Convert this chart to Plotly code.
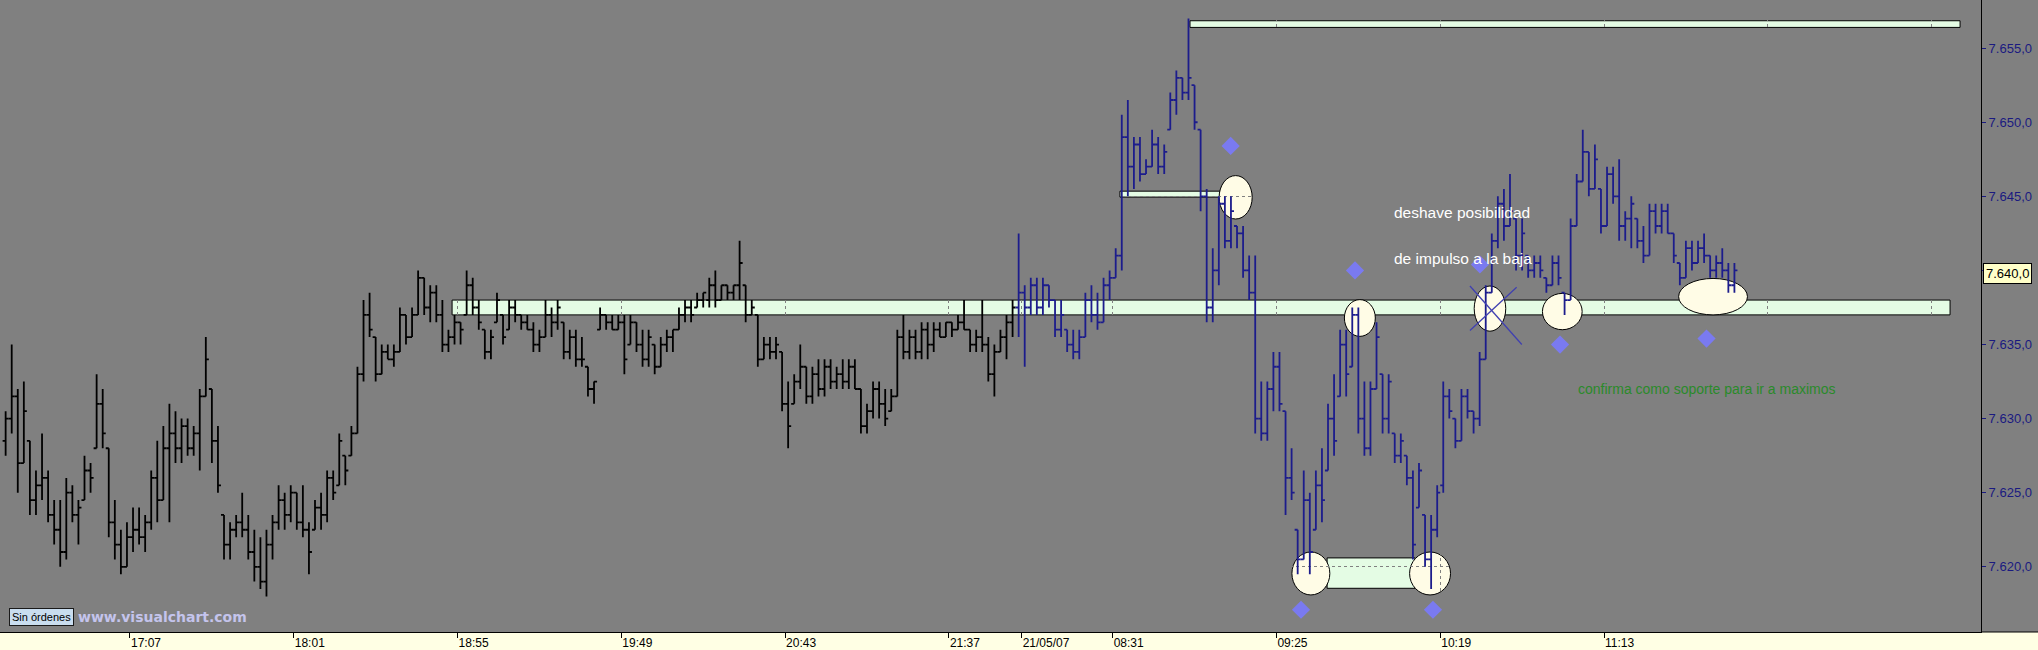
import plotly.graph_objects as go

# ---------------- data ----------------
# Friday session (black bars): 2-minute bars, first bar at 16:26
s1_open = [
    7628.5, 7630.0, 7631.5, 7627.0, 7628.5, 7624.5, 7625.5, 7626.0, 7623.5, 7622.5,
    7621.0, 7625.0, 7623.5, 7624.5, 7626.5, 7628.0, 7631.0, 7628.0, 7623.0, 7621.5,
    7620.0, 7622.0, 7622.5, 7622.0, 7623.0, 7626.0, 7624.5, 7628.0, 7629.0, 7628.0,
    7629.5, 7628.0, 7629.0, 7631.5, 7632.0, 7628.5, 7623.5, 7621.5, 7622.5, 7623.0,
    7622.5, 7621.0, 7620.0, 7619.0, 7621.5, 7623.0, 7624.5, 7623.5, 7625.0, 7623.0,
    7622.5, 7622.5, 7624.0, 7623.5, 7626.0, 7625.5, 7627.5, 7627.5, 7629.0, 7633.0,
    7637.0, 7635.5, 7633.0, 7634.5, 7634.0, 7634.5, 7637.0, 7635.5, 7637.0, 7639.5,
    7637.5, 7638.5, 7637.0, 7635.0, 7635.5, 7636.5, 7637.0, 7639.0, 7637.5, 7636.0,
    7634.5, 7636.5, 7637.0, 7636.0, 7637.5, 7637.0, 7636.5, 7636.0, 7635.0, 7635.5,
    7637.0, 7636.5, 7636.5, 7634.5, 7635.5, 7634.0, 7633.5, 7632.0, 7636.0, 7637.0,
    7636.5, 7636.0, 7636.5, 7635.0, 7636.5, 7635.0, 7634.0, 7635.0, 7633.5, 7635.0,
    7635.5, 7636.0, 7637.0, 7637.5, 7637.5, 7638.0, 7638.0, 7639.0, 7638.0, 7639.0,
    7638.5, 7639.0, 7639.0, 7637.0, 7637.0, 7634.0, 7635.0, 7634.5, 7634.5, 7631.0,
    7631.0, 7632.5, 7633.5, 7631.5, 7633.0, 7632.0, 7633.5, 7632.5, 7633.0, 7632.5,
    7633.5, 7632.0, 7629.5, 7630.5, 7632.0, 7631.0, 7630.5, 7631.5, 7635.5, 7634.5,
    7635.5, 7634.5, 7636.0, 7635.0, 7636.0, 7635.5, 7636.5, 7636.0, 7636.5, 7636.0,
    7635.0, 7635.5, 7635.0, 7633.0, 7634.5, 7635.5, 7636.5]
s1_high = [
    7630.5, 7635.0, 7632.0, 7632.5, 7628.5, 7626.5, 7629.0, 7626.5, 7624.5, 7624.5,
    7626.0, 7625.5, 7624.5, 7627.5, 7627.0, 7633.0, 7632.0, 7628.0, 7624.5, 7622.5,
    7623.0, 7624.0, 7624.0, 7623.5, 7626.5, 7628.5, 7629.5, 7631.0, 7630.5, 7630.0,
    7630.0, 7629.5, 7632.0, 7635.5, 7632.0, 7629.5, 7623.5, 7623.0, 7623.5, 7625.0,
    7623.5, 7622.5, 7622.0, 7622.5, 7623.5, 7625.5, 7625.0, 7625.5, 7625.0, 7625.5,
    7623.0, 7624.5, 7625.0, 7626.5, 7626.5, 7629.0, 7627.5, 7629.5, 7633.5, 7638.0,
    7638.5, 7635.5, 7635.0, 7635.0, 7635.0, 7637.5, 7637.0, 7637.5, 7640.0, 7639.5,
    7639.0, 7639.0, 7638.0, 7636.0, 7637.0, 7636.5, 7640.0, 7639.5, 7638.0, 7636.0,
    7636.0, 7638.5, 7637.0, 7638.0, 7638.0, 7637.0, 7637.0, 7636.5, 7636.0, 7638.0,
    7637.5, 7638.0, 7636.5, 7636.0, 7636.0, 7635.5, 7633.5, 7632.5, 7637.5, 7637.0,
    7637.0, 7637.0, 7637.0, 7637.0, 7636.5, 7636.0, 7636.0, 7635.0, 7635.5, 7636.0,
    7636.0, 7637.5, 7638.0, 7638.0, 7638.5, 7638.5, 7639.5, 7640.0, 7639.0, 7639.0,
    7639.0, 7642.0, 7639.0, 7638.0, 7637.0, 7635.5, 7635.5, 7635.5, 7634.5, 7632.5,
    7633.0, 7635.0, 7633.5, 7633.5, 7634.0, 7634.0, 7634.0, 7633.5, 7634.0, 7634.0,
    7634.0, 7632.0, 7631.0, 7632.5, 7632.5, 7632.0, 7632.0, 7636.0, 7637.0, 7636.0,
    7636.0, 7636.5, 7636.5, 7636.5, 7636.5, 7636.5, 7636.5, 7637.0, 7638.0, 7636.0,
    7636.0, 7638.0, 7635.5, 7635.0, 7636.0, 7637.0, 7638.0]
s1_low = [
    7627.5, 7629.0, 7625.0, 7627.0, 7623.5, 7623.5, 7624.5, 7623.0, 7621.5, 7620.0,
    7620.5, 7623.0, 7621.5, 7624.5, 7625.0, 7628.0, 7628.0, 7622.0, 7620.5, 7619.5,
    7620.0, 7621.0, 7621.5, 7621.0, 7622.5, 7623.0, 7624.5, 7623.0, 7627.0, 7627.0,
    7627.5, 7627.5, 7626.5, 7631.5, 7627.0, 7625.0, 7620.5, 7620.5, 7622.0, 7622.0,
    7620.5, 7619.0, 7618.5, 7618.0, 7620.5, 7622.5, 7622.5, 7623.0, 7622.5, 7622.0,
    7619.5, 7622.5, 7622.5, 7623.0, 7624.5, 7625.5, 7625.5, 7627.5, 7629.0, 7632.5,
    7635.5, 7632.5, 7633.0, 7634.0, 7633.5, 7634.5, 7635.0, 7635.5, 7637.0, 7637.0,
    7636.5, 7636.5, 7634.5, 7634.5, 7635.0, 7635.0, 7637.0, 7637.0, 7636.0, 7634.0,
    7634.0, 7636.5, 7635.0, 7636.0, 7636.5, 7636.0, 7636.0, 7634.5, 7634.5, 7635.5,
    7635.5, 7636.0, 7634.0, 7634.0, 7633.5, 7633.5, 7631.5, 7631.0, 7636.0, 7636.0,
    7636.0, 7636.0, 7633.0, 7635.0, 7634.5, 7633.5, 7633.5, 7633.0, 7633.5, 7634.5,
    7634.5, 7636.0, 7636.5, 7636.5, 7637.5, 7637.5, 7637.5, 7637.5, 7638.0, 7638.0,
    7638.0, 7638.0, 7636.5, 7637.0, 7633.5, 7634.0, 7634.0, 7634.0, 7630.5, 7628.0,
    7631.0, 7632.0, 7631.0, 7631.0, 7631.5, 7631.5, 7632.0, 7632.0, 7632.0, 7632.0,
    7632.0, 7629.0, 7629.0, 7630.0, 7630.0, 7629.5, 7630.5, 7631.5, 7634.0, 7634.0,
    7634.0, 7634.0, 7634.0, 7634.5, 7635.5, 7635.5, 7635.5, 7636.0, 7636.0, 7634.5,
    7634.5, 7634.5, 7632.5, 7631.5, 7634.5, 7634.0, 7635.5]
s1_close = [
    7630.0, 7631.5, 7627.0, 7630.5, 7624.5, 7625.5, 7626.0, 7623.5, 7622.5, 7621.0,
    7625.0, 7623.5, 7624.0, 7626.5, 7626.0, 7631.0, 7629.0, 7623.0, 7621.5, 7620.0,
    7622.0, 7622.5, 7622.0, 7623.0, 7626.0, 7624.5, 7628.0, 7629.0, 7628.0, 7629.5,
    7628.0, 7629.0, 7631.5, 7634.0, 7628.5, 7625.5, 7621.5, 7622.5, 7623.0, 7622.5,
    7621.0, 7620.0, 7619.0, 7621.5, 7623.0, 7624.5, 7623.5, 7625.0, 7623.0, 7622.5,
    7621.0, 7624.0, 7623.5, 7626.0, 7625.0, 7628.5, 7626.5, 7629.0, 7633.0, 7637.0,
    7636.0, 7633.0, 7634.5, 7634.0, 7634.5, 7637.0, 7635.5, 7637.0, 7639.5, 7637.5,
    7638.5, 7637.0, 7635.0, 7635.5, 7636.5, 7636.0, 7639.0, 7637.5, 7636.5, 7634.5,
    7635.5, 7638.0, 7635.5, 7637.5, 7637.0, 7636.5, 7636.0, 7635.0, 7635.5, 7637.0,
    7636.5, 7637.5, 7634.5, 7635.5, 7634.0, 7634.0, 7632.0, 7632.5, 7637.0, 7636.5,
    7636.0, 7636.5, 7634.0, 7636.5, 7635.0, 7634.0, 7635.5, 7633.5, 7635.0, 7635.5,
    7636.0, 7637.0, 7637.5, 7637.0, 7638.0, 7638.5, 7639.0, 7638.0, 7639.0, 7638.5,
    7639.0, 7640.5, 7637.0, 7637.5, 7634.0, 7635.0, 7634.5, 7635.0, 7631.0, 7629.5,
    7632.5, 7633.5, 7631.5, 7633.0, 7632.0, 7633.5, 7632.5, 7633.0, 7632.5, 7633.5,
    7632.0, 7629.5, 7630.5, 7632.0, 7631.0, 7630.0, 7631.5, 7635.5, 7634.5, 7635.5,
    7634.5, 7636.0, 7635.0, 7636.0, 7635.5, 7636.5, 7636.0, 7636.5, 7636.0, 7635.0,
    7635.5, 7635.0, 7633.0, 7634.5, 7635.5, 7636.5, 7637.5]

# Monday 21/05/07 session (blue bars): 2-minute bars, first bar at 08:00
s2_open = [
    7637.5, 7638.5, 7637.5, 7639.0, 7637.5, 7639.0, 7638.0, 7636.0, 7636.0, 7635.0,
    7634.5, 7635.5, 7638.0, 7637.0, 7636.5, 7639.0, 7639.5, 7641.0, 7649.0, 7647.0,
    7648.5, 7646.5, 7647.0, 7648.5, 7647.0, 7649.5, 7651.5, 7653.0, 7652.0, 7652.5,
    7649.5, 7645.0, 7637.5, 7640.0, 7644.5, 7642.0, 7643.0, 7642.5, 7640.0, 7638.5,
    7630.0, 7629.0, 7632.0, 7633.5, 7630.5, 7626.0, 7622.5, 7620.5, 7624.5, 7622.5,
    7625.5, 7626.5, 7630.0, 7631.5, 7635.0, 7633.5, 7637.0, 7630.0, 7628.0, 7632.0,
    7633.0, 7630.0, 7629.0, 7627.5, 7627.5, 7626.0, 7624.0, 7623.5, 7620.5, 7622.5,
    7625.5, 7631.5, 7630.0, 7628.5, 7631.5, 7630.5, 7630.0, 7634.0, 7638.5, 7642.0,
    7644.5, 7643.0, 7643.5, 7641.0, 7641.0, 7640.0, 7640.5, 7639.5, 7639.0, 7640.5,
    7638.5, 7638.0, 7643.0, 7646.0, 7648.0, 7645.5, 7645.5, 7643.0, 7646.5, 7645.0,
    7643.0, 7643.5, 7643.5, 7642.0, 7641.0, 7644.0, 7643.0, 7644.0, 7642.5, 7640.5,
    7639.5, 7641.5, 7640.5, 7641.5, 7641.0, 7640.0, 7640.5, 7640.0, 7639.0]
s2_high = [
    7642.5, 7639.0, 7639.5, 7639.5, 7639.5, 7639.0, 7638.0, 7638.0, 7636.0, 7636.0,
    7636.0, 7638.5, 7639.0, 7638.5, 7639.5, 7640.0, 7641.5, 7650.5, 7651.5, 7649.0,
    7649.0, 7647.5, 7649.5, 7649.0, 7648.5, 7652.0, 7653.5, 7653.0, 7657.0, 7652.5,
    7649.5, 7645.5, 7641.5, 7645.0, 7645.0, 7645.0, 7643.0, 7643.0, 7641.0, 7641.0,
    7632.5, 7632.5, 7634.5, 7634.5, 7630.5, 7628.0, 7622.5, 7626.5, 7625.0, 7626.5,
    7628.0, 7631.0, 7633.0, 7636.0, 7636.0, 7637.5, 7637.5, 7632.5, 7632.5, 7636.5,
    7633.0, 7633.0, 7629.0, 7629.0, 7627.5, 7626.5, 7627.0, 7623.5, 7623.5, 7625.5,
    7632.5, 7632.0, 7630.0, 7632.0, 7632.0, 7630.5, 7634.5, 7639.0, 7642.5, 7645.0,
    7645.5, 7646.5, 7643.5, 7643.5, 7641.0, 7641.0, 7641.0, 7639.5, 7641.0, 7641.0,
    7638.5, 7643.5, 7646.5, 7649.5, 7648.0, 7648.5, 7645.5, 7647.0, 7647.0, 7647.5,
    7644.0, 7645.0, 7643.5, 7643.0, 7644.5, 7644.5, 7644.5, 7644.5, 7642.5, 7640.5,
    7642.0, 7642.0, 7642.0, 7642.5, 7641.0, 7641.0, 7641.5, 7640.5, 7640.5]
s2_low = [
    7635.5, 7633.5, 7637.0, 7637.0, 7637.0, 7637.5, 7635.5, 7635.5, 7634.5, 7634.0,
    7634.0, 7635.5, 7636.5, 7636.0, 7636.5, 7638.0, 7639.5, 7640.0, 7645.0, 7645.5,
    7646.0, 7646.5, 7647.0, 7646.5, 7646.5, 7649.5, 7650.5, 7651.5, 7651.5, 7649.5,
    7644.0, 7636.5, 7636.5, 7639.0, 7641.5, 7641.5, 7641.5, 7639.5, 7638.0, 7629.0,
    7628.5, 7628.5, 7630.5, 7630.5, 7623.5, 7624.5, 7619.5, 7620.5, 7619.5, 7622.5,
    7623.0, 7626.5, 7627.5, 7631.5, 7631.5, 7633.5, 7629.0, 7627.5, 7627.5, 7632.0,
    7629.0, 7629.0, 7627.0, 7627.0, 7625.5, 7620.5, 7624.0, 7620.0, 7618.5, 7622.0,
    7625.0, 7630.0, 7628.0, 7628.5, 7630.0, 7629.0, 7629.5, 7634.0, 7638.5, 7641.5,
    7642.0, 7643.0, 7640.0, 7640.0, 7639.5, 7639.5, 7639.5, 7638.5, 7639.0, 7639.0,
    7637.0, 7638.0, 7643.0, 7646.0, 7645.0, 7645.5, 7642.5, 7643.0, 7644.5, 7642.0,
    7642.0, 7641.5, 7641.5, 7640.5, 7641.0, 7642.5, 7642.5, 7642.5, 7640.5, 7639.0,
    7639.5, 7640.0, 7640.5, 7640.5, 7639.5, 7639.5, 7639.5, 7638.5, 7638.5]
s2_close = [
    7638.5, 7637.5, 7639.0, 7637.5, 7639.0, 7638.0, 7636.0, 7637.0, 7635.0, 7634.5,
    7635.5, 7638.0, 7637.0, 7636.5, 7639.0, 7639.5, 7641.0, 7649.0, 7647.0, 7648.5,
    7646.5, 7647.0, 7648.5, 7647.0, 7648.0, 7651.5, 7653.0, 7652.0, 7653.0, 7650.0,
    7645.0, 7637.5, 7640.0, 7644.5, 7642.0, 7644.0, 7642.5, 7640.0, 7638.5, 7630.0,
    7629.0, 7632.0, 7633.5, 7631.0, 7626.0, 7625.0, 7620.5, 7624.5, 7621.0, 7625.5,
    7624.5, 7630.0, 7628.5, 7635.0, 7633.0, 7637.0, 7630.0, 7628.0, 7632.0, 7635.5,
    7630.0, 7632.5, 7627.5, 7628.5, 7626.0, 7621.5, 7626.5, 7620.5, 7622.5, 7625.0,
    7631.5, 7630.5, 7628.5, 7631.5, 7630.5, 7630.0, 7634.0, 7638.5, 7642.0, 7644.5,
    7643.0, 7644.0, 7641.0, 7642.5, 7640.0, 7640.5, 7640.0, 7639.0, 7640.5, 7639.5,
    7638.0, 7643.0, 7646.0, 7648.0, 7645.5, 7647.5, 7643.0, 7646.5, 7645.0, 7643.0,
    7643.5, 7644.5, 7642.0, 7641.0, 7644.0, 7643.0, 7644.0, 7642.5, 7641.0, 7639.5,
    7641.5, 7640.5, 7641.5, 7641.0, 7640.0, 7640.5, 7640.0, 7639.0, 7640.0]

# time axis: bar slots in minutes (16:00 Friday = 0, Monday 08:00 = 360, overnight gap removed)
S1_FIRST_SLOT = 26     # 16:26
S2_FIRST_SLOT = 360    # 08:00
BAR_MINUTES = 2

time_tick_slots = [67, 121, 175, 229, 283, 337, 361, 391, 445, 499, 553]
time_tick_labels = ["17:07", "18:01", "18:55", "19:49", "20:43", "21:37",
                    "21/05/07", "08:31", "09:25", "10:19", "11:13"]
grid_only_slots = [607, 661]

price_ticks = [7620, 7625, 7630, 7635, 7640, 7645, 7650, 7655]
last_price = 7640.0

# hand-drawn annotations (levels and zones) in chart coordinates
support_level = (7637.0, 7638.0)
top_level = (7656.4, 7656.85)
mid_level = (7644.95, 7645.35)
bottom_level = (7618.55, 7620.6)

# ---------------- build ----------------
def es_num(v):
    s = f"{v:,.1f}"
    return s.replace(",", "#").replace(".", ",").replace("#", ".")

x1 = [S1_FIRST_SLOT + BAR_MINUTES * i for i in range(len(s1_close))]
x2 = [S2_FIRST_SLOT + BAR_MINUTES * i for i in range(len(s2_close))]

BG = "#808080"
FONT = "Liberation Sans, Arial, sans-serif"
BAND_FILL = "#e4fce4"
OVAL_FILL = "#fffce6"
BLACK_BAR = "#000000"
BLUE_BAR = "#1c1c8c"
BAR_W = 1.8

fig = go.Figure()
fig.add_trace(go.Ohlc(
    x=x1, open=s1_open, high=s1_high, low=s1_low, close=s1_close,
    increasing=dict(line=dict(color=BLACK_BAR, width=BAR_W)),
    decreasing=dict(line=dict(color=BLACK_BAR, width=BAR_W)),
    tickwidth=0.5, hoverinfo="skip", showlegend=False))
fig.add_trace(go.Ohlc(
    x=x2, open=s2_open, high=s2_high, low=s2_low, close=s2_close,
    increasing=dict(line=dict(color=BLUE_BAR, width=BAR_W)),
    decreasing=dict(line=dict(color=BLUE_BAR, width=BAR_W)),
    tickwidth=0.5, hoverinfo="skip", showlegend=False))

# blue signal markers
fig.add_trace(go.Scatter(
    x=[429.9, 453.1, 496.6, 470.9, 512.1, 538.5, 586.8],
    y=[7648.4, 7617.1, 7617.1, 7640.0, 7640.4, 7635.0, 7635.4],
    mode="markers", hoverinfo="skip", showlegend=False,
    marker=dict(symbol="diamond", size=14, color="#7a7af0", line=dict(width=0))))

shapes = []
def rect(x0, x1_, y0, y1, fill):
    shapes.append(dict(type="rect", xref="x", yref="y", x0=x0, x1=x1_, y0=y0, y1=y1,
                       fillcolor=fill, line=dict(color="black", width=1), layer="below"))
def oval(x0, x1_, y0, y1):
    shapes.append(dict(type="circle", xref="x", yref="y", x0=x0, x1=x1_, y0=y0, y1=y1,
                       fillcolor=OVAL_FILL, line=dict(color="black", width=1), layer="below"))

rect(173.2, 667.1, support_level[0], support_level[1], BAND_FILL)
rect(416.5, 670.4, top_level[0], top_level[1], BAND_FILL)
rect(393.4, 426.4, mid_level[0], mid_level[1], BAND_FILL)
rect(461.7, 490.7, bottom_level[0], bottom_level[1], BAND_FILL)
oval(426.1, 437.0, 7643.47, 7646.4)
oval(450.1, 462.6, 7618.1, 7621.0)
oval(488.9, 502.4, 7618.1, 7621.0)
oval(467.4, 477.6, 7635.55, 7638.03)
oval(510.2, 520.6, 7635.9, 7638.95)
oval(532.7, 545.8, 7636.0, 7638.45)
oval(577.6, 600.3, 7637.0, 7639.46)
# cross over the broken-level oval
shapes.append(dict(type="line", xref="x", yref="y", x0=508.8, y0=7638.95, x1=525.9, y1=7635.0,
                   line=dict(color="#4040b0", width=1.3), layer="above"))
shapes.append(dict(type="line", xref="x", yref="y", x0=524.2, y0=7638.86, x1=508.8, y1=7635.94,
                   line=dict(color="#4040b0", width=1.3), layer="above"))
# light time-axis strip and its top border across the full width
shapes.append(dict(type="rect", xref="paper", yref="paper", x0=-0.01, x1=1.05, y0=-0.06, y1=0,
                   fillcolor="#ffffe4", line=dict(width=0), layer="below"))
shapes.append(dict(type="line", xref="paper", yref="paper", x0=1, x1=1.05, y0=0, y1=0,
                   line=dict(color="black", width=1), layer="above"))

annotations = [
    dict(xref="x", yref="y", x=483.0, y=7643.9, text="deshave posibilidad", showarrow=False,
         xanchor="left", yanchor="middle", font=dict(family=FONT, size=15.5, color="white")),
    dict(xref="x", yref="y", x=483.0, y=7640.8, text="de impulso a la baja", showarrow=False,
         xanchor="left", yanchor="middle", font=dict(family=FONT, size=15.5, color="white")),
    dict(xref="x", yref="y", x=543.8, y=7632.0, text="confirma como soporte para ir a maximos",
         showarrow=False, xanchor="left", yanchor="middle",
         font=dict(family=FONT, size=14, color="#2a8a2a")),
    dict(xref="paper", yref="y", x=1, xshift=2, y=last_price - 0.2, text=es_num(last_price),
         showarrow=False, xanchor="left", yanchor="middle", bgcolor="#ffffc8",
         bordercolor="black", borderwidth=1, borderpad=2,
         font=dict(family=FONT, size=13, color="black")),
    dict(xref="paper", yref="paper", x=9 / 1981, y=1 - 617 / 632, text="Sin órdenes",
         showarrow=False, xanchor="left", yanchor="middle", bgcolor="#c9ddef",
         bordercolor="#1a1a1a", borderwidth=1, borderpad=2,
         font=dict(family=FONT, size=11, color="black")),
    dict(xref="paper", yref="paper", x=76 / 1981, y=1 - 617 / 632,
         text="<b>www.visualchart.com</b>", showarrow=False, xanchor="left", yanchor="middle",
         font=dict(family="DejaVu Sans, Verdana, sans-serif", size=14, color="#c4c4ec")),
]

fig.update_layout(
    width=2038, height=650,
    margin=dict(l=0, r=57, t=0, b=18, pad=0),
    paper_bgcolor=BG, plot_bgcolor=BG,
    showlegend=False, shapes=shapes, annotations=annotations,
    font=dict(family=FONT),
    xaxis=dict(
        range=[24.14, 677.3], tickmode="array", tickvals=time_tick_slots, ticktext=time_tick_labels,
        ticks="outside", ticklen=5, tickcolor="black", tickwidth=1,
        ticklabelposition="outside right",
        tickfont=dict(family=FONT, size=12, color="black"),
        showline=True, linecolor="black", linewidth=1, zeroline=False,
        showgrid=True, gridcolor=BG, griddash="dot", gridwidth=1,
        minor=dict(tickmode="array", tickvals=grid_only_slots, showgrid=True,
                   gridcolor=BG, griddash="dot", gridwidth=1, ticks=""),
        rangeslider=dict(visible=False), fixedrange=True),
    yaxis=dict(
        side="right", range=[7615.6, 7658.25], tickmode="array", tickvals=price_ticks,
        ticktext=[es_num(v) for v in price_ticks],
        ticks="outside", ticklen=4, tickcolor="#1a1a80", tickwidth=1,
        tickfont=dict(family=FONT, size=13, color="#1a1a80"),
        showline=True, linecolor="black", linewidth=1, zeroline=False,
        showgrid=True, gridcolor=BG, griddash="dot", gridwidth=1, fixedrange=True),
)

fig.write_html("out.html", config={"displayModeBar": False},
               post_script="document.body.style.margin='0';document.body.style.overflow='hidden';")
